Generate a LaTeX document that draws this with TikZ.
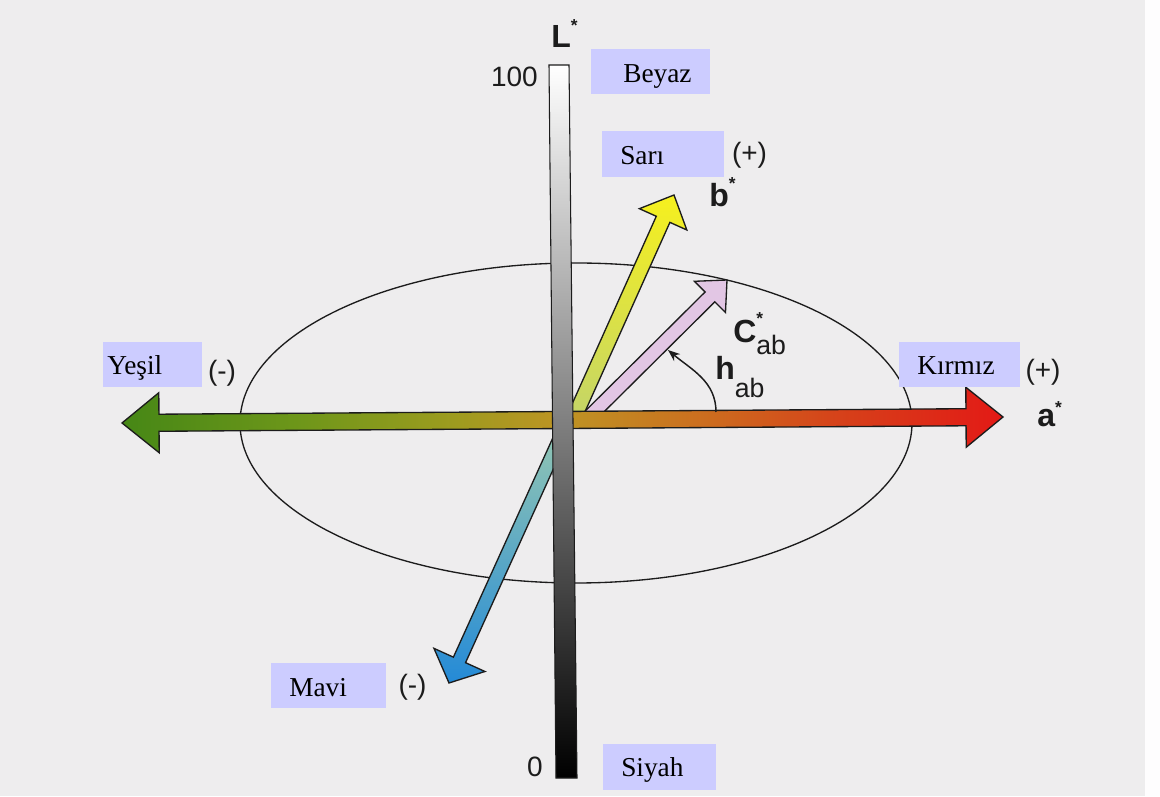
\documentclass[tikz,border=0pt]{standalone}
\usepackage{fontspec}
\setmainfont{Liberation Serif}
\setsansfont{Liberation Sans}
\usetikzlibrary{calc,arrows.meta}
\definecolor{bg}{RGB}{238,237,238}
\definecolor{lav}{RGB}{204,204,255}
\definecolor{ink}{RGB}{28,28,28}
\definecolor{ylo}{RGB}{246,240,30}
\definecolor{ylolow}{RGB}{195,212,105}
\definecolor{pnk}{RGB}{226,198,228}
\definecolor{blu}{RGB}{36,138,215}
\definecolor{blulow}{RGB}{150,200,178}
\pgfdeclarehorizontalshading{haxis}{100bp}{%
  rgb(0bp)=(0.275,0.53,0.086); rgb(25bp)=(0.275,0.53,0.086);
  rgb(35bp)=(0.43,0.59,0.10); rgb(43.5bp)=(0.61,0.61,0.12);
  rgb(50bp)=(0.745,0.58,0.14); rgb(58bp)=(0.80,0.43,0.12);
  rgb(66bp)=(0.84,0.25,0.10); rgb(75bp)=(0.89,0.10,0.086);
  rgb(100bp)=(0.89,0.10,0.086)}
\newcommand\astk[1]{\raisebox{#1}{\fontsize{13}{13}\selectfont *}}
\newcommand\fatarrow[6]{%
  \coordinate (#2-#3-h) at ($(#3)!#5!(#2)$);
  \path[#1] ($(#2)!#4!90:(#3)$) -- ($(#2-#3-h)!#4!-90:(#2)$) -- ($(#2-#3-h)!#6!-90:(#2)$) -- (#3)
    -- ($(#2-#3-h)!#6!90:(#2)$) -- ($(#2-#3-h)!#4!90:(#2)$) -- ($(#2)!#4!-90:(#3)$) -- cycle;}
\tikzset{
  lbox/.style={fill=lav, inner sep=0pt, anchor=south west},
  btxt/.style={font=\fontsize{20.5}{24}\selectfont, text=black, inner sep=0pt, anchor=base west},
  sgn/.style={font=\sffamily\fontsize{21}{24}\selectfont, text=ink, inner sep=0pt},
  axl/.style={font=\sffamily\bfseries\fontsize{24}{26}\selectfont, text=ink, inner sep=0pt, anchor=base west},
  num/.style={font=\sffamily\fontsize{21}{22}\selectfont, text=ink, inner sep=0pt},
  fat/.style={draw=ink, line width=1pt, line join=miter},
}
\begin{document}
\begin{tikzpicture}[x=0.75pt,y=0.75pt]
\useasboundingbox (0,0) rectangle (1160,796);
\fill[bg] (0,0) rectangle (1160,796);
\fill[white!92!bg] (1145,0) rectangle (1160,796);

% ellipse
\draw[ink, line width=1pt] (576,373) ellipse [x radius=252pt, y radius=120pt];

% coordinates
\coordinate (ys) at (574,378);
\coordinate (yt) at (674,601);
\coordinate (ps) at (588,378);
\coordinate (pt) at (727,516);
\coordinate (bs) at (566,371);
\coordinate (bt) at (449,113);
\coordinate (gt) at (122,373);
\coordinate (rt) at (1003,379);

% chroma arrows
\fatarrow{fat, top color=ylo, bottom color=ylolow}{ys}{yt}{5.6pt}{20pt}{19.5pt}
\fatarrow{fat, fill=pnk}{ps}{pt}{5.2pt}{18pt}{16.5pt}
\fatarrow{fat, top color=blulow, bottom color=blu}{bs}{bt}{5pt}{19pt}{21pt}

% a* axis (double headed)
\coordinate (gh) at ($(gt)!27.75pt!(rt)$);
\coordinate (rh) at ($(rt)!27.75pt!(gt)$);
\path[fat, shading=haxis]
  (gt) -- ($(gh)!22.5pt!90:(rt)$) -- ($(gh)!6.4pt!90:(rt)$) -- ($(rh)!6.4pt!-90:(gt)$)
  -- ($(rh)!22.5pt!-90:(gt)$) -- (rt) -- ($(rh)!22.5pt!90:(gt)$) -- ($(rh)!6.4pt!90:(gt)$)
  -- ($(gh)!6.4pt!-90:(rt)$) -- ($(gh)!22.5pt!-90:(rt)$) -- cycle;

% L* bar
\shadedraw[top color=white, middle color=black!42, bottom color=black, draw=ink, line width=0.8pt]
  (549,731) -- (569,731) -- (577,18) -- (556,18) -- cycle;

% hue angle arc
\coordinate (h1) at (716,384);
\coordinate (h2) at (668,446);
\draw[ink, line width=1.1pt, -{Stealth[length=9pt,width=7pt]}] (h1) to[out=90, in=-40] (h2);

% axis labels
\node[axl] (Lst) at (551,748) {L\astk{12pt}};
\node[num, anchor=base east] (n100) at (538,709) {100};
\node[num, anchor=base east] (n0) at (543,19) {0};
\node[axl] (bst) at (709,589) {b\astk{13pt}};
\node[axl] (ast) at (1037,369) {a\astk{10pt}};
\node[axl] (cab) at (733,453) {C\rlap{\astk{14pt}}\raisebox{-9pt}{\mdseries\fontsize{20}{22}\selectfont ab}};
\node[axl] (hab) at (715,416) {h\raisebox{-13pt}{\mdseries\fontsize{20}{22}\selectfont ab}};

% signs
\node[sgn] (sp1) at (749.5,641) {(+)};
\node[sgn] (sm1) at (222,423) {(-)};
\node[sgn] (sp2) at (1043,424) {(+)};
\node[sgn] (sm2) at (412.5,109) {(-)};

% Turkish label boxes
\node[lbox, minimum width=89.25pt, minimum height=33.75pt] (beyazbox) at (591,702) {};
\node[btxt] (beyaz) at (623,713) {Beyaz};
\node[lbox, minimum width=91.5pt, minimum height=34.5pt] (saribox) at (602,619) {};
\node[btxt] (sari) at (620,631) {Sarı};
\node[lbox, minimum width=74.25pt, minimum height=33.75pt] (yesilbox) at (103,409) {};
\node[btxt] (yesil) at (107,421) {Yeşil};
\node[lbox, minimum width=90.75pt, minimum height=33.75pt] (kirmizbox) at (899,409) {};
\node[btxt] (kirmiz) at (917,421) {Kırmız};
\node[lbox, minimum width=86.25pt, minimum height=33.75pt] (mavibox) at (271,88) {};
\node[btxt] (mavi) at (289,99) {Mavi};
\node[lbox, minimum width=84.75pt, minimum height=34.5pt] (siyahbox) at (603,6) {};
\node[btxt] (siyah) at (621,19) {Siyah};
\end{tikzpicture}
\end{document}
